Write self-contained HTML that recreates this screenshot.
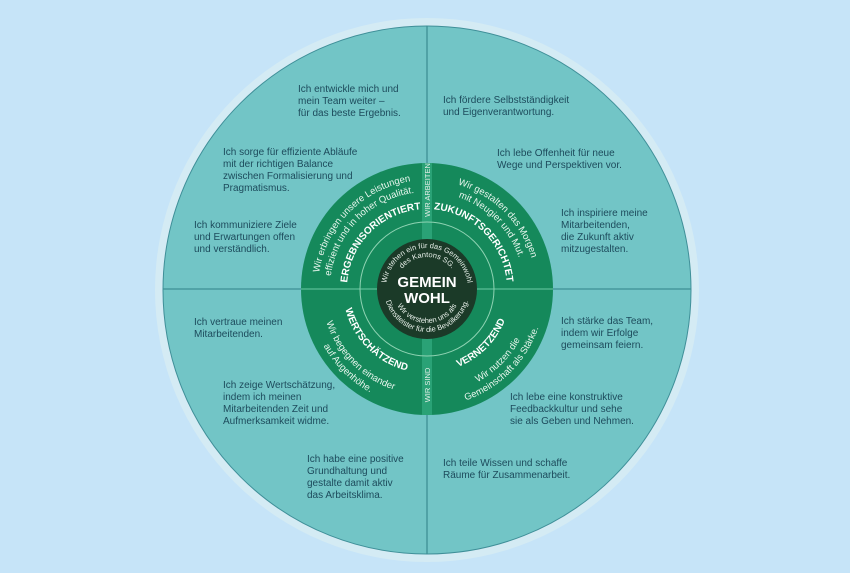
<!DOCTYPE html>
<html><head><meta charset="utf-8"><style>
html,body{margin:0;padding:0;background:#c6e4f8;}
svg{display:block;font-family:"Liberation Sans",sans-serif;}
.t{font-size:10px;fill:#1d4b5c;}
.lab{font-size:10px;font-weight:bold;fill:#fff;letter-spacing:0;}
.s{font-size:9.5px;fill:#e8f6ee;}
.c{font-size:7.5px;fill:#e8f0ea;}
</style></head><body>
<svg width="850" height="573" viewBox="0 0 850 573" xmlns="http://www.w3.org/2000/svg">
<defs>
<path id="eT" d="M347,289 A80,80 0 0 1 427,209"/>
<path id="zT" d="M427,209 A80,80 0 0 1 507,289"/>
<path id="wT" d="M343,289 A84,84 0 0 0 427,373"/>
<path id="vT" d="M427,373 A84,84 0 0 0 511,289"/>
<path id="e1" d="M318,289 A109,109 0 0 1 427,180"/>
<path id="e2" d="M330,289 A97,97 0 0 1 427,192"/>
<path id="z1" d="M427,180 A109,109 0 0 1 536,289"/>
<path id="z2" d="M427,192 A97,97 0 0 1 524,289"/>
<path id="w1" d="M321,289 A106,106 0 0 0 427,395"/>
<path id="w2" d="M309,289 A118,118 0 0 0 427,407"/>
<path id="v1r" d="M427,395 A106,106 0 0 0 533,289"/>
<path id="v2r" d="M427,407 A118,118 0 0 0 545,289"/>
<path id="i1" d="M386,289 A41,41 0 0 1 468,289"/>
<path id="i2" d="M395,289 A32,32 0 0 1 459,289"/>
<path id="i3" d="M393,289 A34,34 0 0 0 461,289"/>
<path id="i4" d="M384,289 A43,43 0 0 0 470,289"/>
</defs>
<circle cx="427" cy="290" r="272" fill="#d4ebf4"/>
<circle cx="427" cy="290" r="264" fill="#72c5c6" stroke="#3f8f98" stroke-width="1"/>
<line x1="427" y1="26" x2="427" y2="554" stroke="#3e8f95" stroke-width="1.3"/>
<line x1="163" y1="289" x2="691" y2="289" stroke="#3e8f95" stroke-width="1.3"/>
<circle cx="427" cy="289" r="126" fill="#15895b"/>
<rect x="422" y="163" width="10" height="252" fill="#2aa276"/>
<line x1="301" y1="289" x2="553" y2="289" stroke="#4fb58c" stroke-width="1.5"/>
<circle cx="427" cy="289" r="67" fill="none" stroke="#8fd3b3" stroke-width="1"/>
<circle cx="427" cy="289" r="50" fill="#1b3a28"/>
<text class="c" transform="translate(430,190) rotate(-90)" text-anchor="middle" font-size="6.5" fill="#fff">WIR ARBEITEN</text>
<text class="c" transform="translate(430,385) rotate(-90)" text-anchor="middle" font-size="6.5" fill="#fff">WIR SIND</text>
<text class="lab"><textPath href="#eT" startOffset="50%" text-anchor="middle">ERGEBNISORIENTIERT</textPath></text>
<text class="lab"><textPath href="#zT" startOffset="50%" text-anchor="middle">ZUKUNFTSGERICHTET</textPath></text>
<text class="lab"><textPath href="#wT" startOffset="50%" text-anchor="middle">WERTSCHÄTZEND</textPath></text>
<text class="lab"><textPath href="#vT" startOffset="50%" text-anchor="middle">VERNETZEND</textPath></text>
<text class="s"><textPath href="#e1" startOffset="50%" text-anchor="middle">Wir erbringen unsere Leistungen</textPath></text>
<text class="s"><textPath href="#e2" startOffset="50%" text-anchor="middle">effizient und in hoher Qualität.</textPath></text>
<text class="s"><textPath href="#z1" startOffset="50%" text-anchor="middle">Wir gestalten das Morgen</textPath></text>
<text class="s"><textPath href="#z2" startOffset="50%" text-anchor="middle">mit Neugier und Mut.</textPath></text>
<text class="s"><textPath href="#w1" startOffset="50%" text-anchor="middle">Wir begegnen einander</textPath></text>
<text class="s"><textPath href="#w2" startOffset="50%" text-anchor="middle">auf Augenhöhe.</textPath></text>
<text class="s"><textPath href="#v1r" startOffset="50%" text-anchor="middle">Wir nutzen die</textPath></text>
<text class="s"><textPath href="#v2r" startOffset="50%" text-anchor="middle">Gemeinschaft als Stärke.</textPath></text>
<text class="c"><textPath href="#i1" startOffset="50%" text-anchor="middle">Wir stehen ein für das Gemeinwohl</textPath></text>
<text class="c"><textPath href="#i2" startOffset="50%" text-anchor="middle">des Kantons SG.</textPath></text>
<text class="c"><textPath href="#i3" startOffset="50%" text-anchor="middle">Wir verstehen uns als</textPath></text>
<text class="c"><textPath href="#i4" startOffset="50%" text-anchor="middle">Dienstleister für die Bevölkerung.</textPath></text>
<text x="427" y="287" text-anchor="middle" font-size="15" font-weight="bold" fill="#fff">GEMEIN</text>
<text x="427" y="303" text-anchor="middle" font-size="15" font-weight="bold" fill="#fff">WOHL</text>
<g class="t">
<text x="298" y="92">Ich entwickle mich und<tspan x="298" dy="12">mein Team weiter –</tspan><tspan x="298" dy="12">für das beste Ergebnis.</tspan></text>
<text x="223" y="155">Ich sorge für effiziente Abläufe<tspan x="223" dy="12">mit der richtigen Balance</tspan><tspan x="223" dy="12">zwischen Formalisierung und</tspan><tspan x="223" dy="12">Pragmatismus.</tspan></text>
<text x="194" y="228">Ich kommuniziere Ziele<tspan x="194" dy="12">und Erwartungen offen</tspan><tspan x="194" dy="12">und verständlich.</tspan></text>
<text x="194" y="325">Ich vertraue meinen<tspan x="194" dy="12">Mitarbeitenden.</tspan></text>
<text x="223" y="388">Ich zeige Wertschätzung,<tspan x="223" dy="12">indem ich meinen</tspan><tspan x="223" dy="12">Mitarbeitenden Zeit und</tspan><tspan x="223" dy="12">Aufmerksamkeit widme.</tspan></text>
<text x="307" y="462">Ich habe eine positive<tspan x="307" dy="12">Grundhaltung und</tspan><tspan x="307" dy="12">gestalte damit aktiv</tspan><tspan x="307" dy="12">das Arbeitsklima.</tspan></text>
<text x="443" y="103">Ich fördere Selbstständigkeit<tspan x="443" dy="12">und Eigenverantwortung.</tspan></text>
<text x="497" y="156">Ich lebe Offenheit für neue<tspan x="497" dy="12">Wege und Perspektiven vor.</tspan></text>
<text x="561" y="216">Ich inspiriere meine<tspan x="561" dy="12">Mitarbeitenden,</tspan><tspan x="561" dy="12">die Zukunft aktiv</tspan><tspan x="561" dy="12">mitzugestalten.</tspan></text>
<text x="561" y="324">Ich stärke das Team,<tspan x="561" dy="12">indem wir Erfolge</tspan><tspan x="561" dy="12">gemeinsam feiern.</tspan></text>
<text x="510" y="400">Ich lebe eine konstruktive<tspan x="510" dy="12">Feedbackkultur und sehe</tspan><tspan x="510" dy="12">sie als Geben und Nehmen.</tspan></text>
<text x="443" y="466">Ich teile Wissen und schaffe<tspan x="443" dy="12">Räume für Zusammenarbeit.</tspan></text>
</g>
</svg>
</body></html>
